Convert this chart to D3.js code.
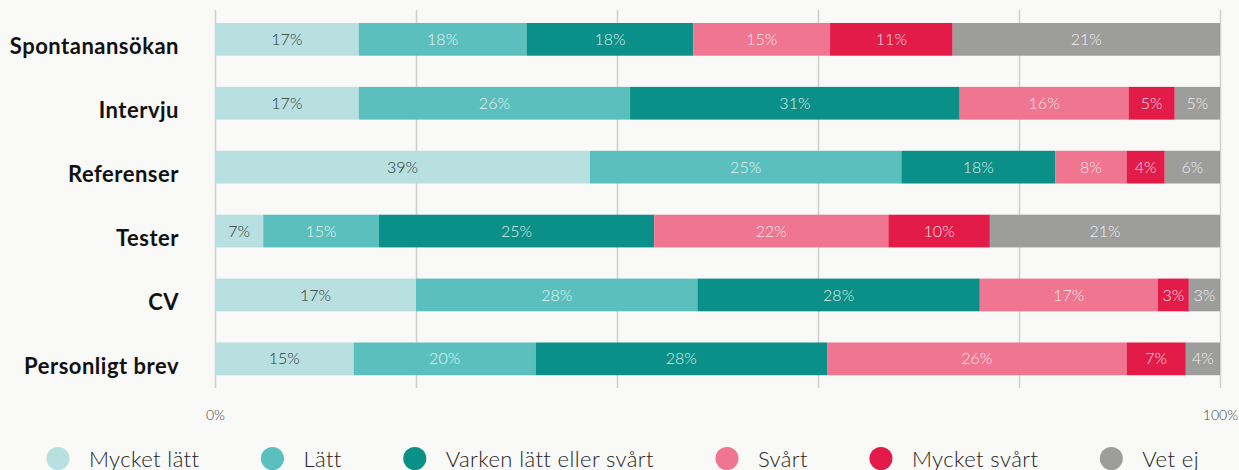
<!DOCTYPE html>
<html>
<head>
<meta charset="utf-8">
<script src="https://cdn.jsdelivr.net/npm/d3@7"></script>
<style>
  html, body { margin: 0; padding: 0; background: #f9f9f7; }
  svg { display: block; font-family: Lato, "Open Sans", sans-serif; }
</style>
</head>
<body>
<svg id="chart"></svg>
<script>
// categories (rows, top to bottom) and answer options (stack order)
const categories = ['Spontanansökan', 'Intervju', 'Referenser', 'Tester', 'CV', 'Personligt brev'];
const responses = ['Mycket lätt', 'Lätt', 'Varken lätt eller svårt', 'Svårt', 'Mycket svårt', 'Vet ej'];
const colors = ['#b8e0e1', '#5bbfbe', '#0a9088', '#ef7590', '#e31b48', '#9d9d9b'];

// bar lengths (share of the row)
const mycketLatt = [14.3, 14.3, 37.3, 4.8, 20.0, 13.8];
const latt = [16.7, 27.0, 31.0, 11.5, 28.0, 18.1];
const varken = [16.6, 32.8, 15.3, 27.4, 28.1, 29.0];
const svart = [13.6, 16.8, 7.1, 23.3, 17.7, 29.8];
const mycketSvart = [12.2, 4.6, 3.8, 10.1, 3.1, 5.9];
const vetEj = [26.6, 4.5, 5.5, 22.9, 3.1, 3.4];

// printed labels
const mycketLattLbl = [17, 17, 39, 7, 17, 15];
const lattLbl = [18, 26, 25, 15, 28, 20];
const varkenLbl = [18, 31, 18, 25, 28, 28];
const svartLbl = [15, 16, 8, 22, 17, 26];
const mycketSvartLbl = [11, 5, 4, 10, 3, 7];
const vetEjLbl = [21, 5, 6, 21, 3, 4];

const xTicks = [0, 20, 40, 60, 80, 100];

const series = [mycketLatt, latt, varken, svart, mycketSvart, vetEj];
const labels = [mycketLattLbl, lattLbl, varkenLbl, svartLbl, mycketSvartLbl, vetEjLbl];

const width = 1239, height = 470;
const svg = d3.select('#chart').attr('width', width).attr('height', height);

// table for d3.stack
const table = categories.map((c, i) => {
    const row = {category: c, idx: i};
    responses.forEach((r, j) => row[r] = series[j][i]);
    return row;
});
const stacked = d3.stack().keys(responses)(table);

const x = d3.scaleLinear().domain([0, 100]).range([215, 1220]);
const y = d3.scaleBand().domain(categories).range([7.4, 390.8])
    .paddingInner(0.488).paddingOuter(0.244);

// grid lines + end labels
const gridTop = 10, gridBottom = 388;
const axis = d3.axisBottom(x)
    .tickValues(xTicks)
    .tickSize(-(gridBottom - gridTop))
    .tickFormat(d => (d === 0 || d === 100) ? d + '%' : '');
const axisG = svg.append('g')
    .attr('transform', `translate(0,${gridBottom})`)
    .call(axis)
    .call(g => g.select('.domain').remove());
axisG.selectAll('.tick line').attr('stroke', '#cfcfcd').attr('stroke-width', 1.5);
axisG.selectAll('.tick text')
    .attr('y', 22)
    .attr('fill', '#444')
    .attr('font-size', 14)
    .attr('font-family', 'Lato, sans-serif')
    .attr('font-weight', 300);

// bars
const layers = svg.append('g').selectAll('g')
    .data(stacked)
    .join('g')
    .attr('fill', (d, i) => colors[i]);

layers.selectAll('rect')
    .data(d => d)
    .join('rect')
    .attr('x', d => x(d[0]))
    .attr('y', d => y(d.data.category))
    .attr('width', d => x(d[1]) - x(d[0]))
    .attr('height', y.bandwidth());

// value labels
layers.each(function(layer, li) {
    d3.select(this).selectAll('text')
        .data(layer)
        .join('text')
        .attr('x', d => (x(d[0]) + x(d[1])) / 2)
        .attr('y', d => y(d.data.category) + y.bandwidth() / 2)
        .attr('dy', '0.35em')
        .attr('text-anchor', 'middle')
        .attr('font-size', 16)
        .attr('font-weight', 300)
        .attr('fill', li === 0 ? '#333' : 'rgba(255,255,255,0.88)')
        .text(d => labels[li][d.data.idx] + '%');
});

// category labels
svg.append('g').selectAll('text')
    .data(categories)
    .join('text')
    .attr('x', 179)
    .attr('y', d => y(d) + y.bandwidth() / 2 + 15)
    .attr('text-anchor', 'end')
    .attr('font-size', 22)
    .attr('font-weight', 700)
    .attr('letter-spacing', 0.5)
    .attr('fill', '#111')
    .text(d => d);

// legend
const legend = svg.append('g');
let lx = 58;
responses.forEach((r, i) => {
    legend.append('circle')
        .attr('cx', lx)
        .attr('cy', 458.5)
        .attr('r', 11.5)
        .attr('fill', colors[i]);
    const t = legend.append('text')
        .attr('x', lx + 31)
        .attr('y', 467)
        .attr('font-size', 22)
        .attr('font-weight', 300)
        .attr('letter-spacing', 0.4)
        .attr('fill', '#222')
        .text(r);
    lx = lx + 31 + t.node().getComputedTextLength() + 73;
});
</script>
</body>
</html>
